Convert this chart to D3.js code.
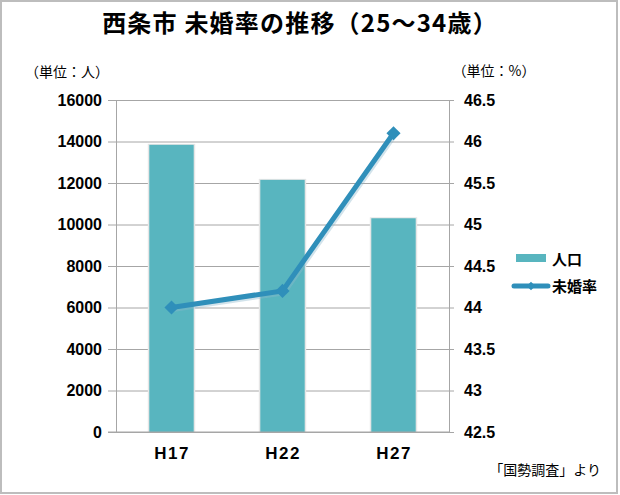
<!DOCTYPE html>
<html><head><meta charset="utf-8">
<script src="https://cdn.jsdelivr.net/npm/d3@7"></script>
<style>body{margin:0;background:#fff}svg{display:block}</style>
</head><body><svg id="c" width="620" height="495"></svg>
<script>
const categories = ["H17", "H22", "H27"];
const population = [13840, 12150, 10300];
const unmarriedRate = [44.0, 44.2, 46.1];
const leftTicks = [0, 2000, 4000, 6000, 8000, 10000, 12000, 14000, 16000];
const rightTicks = [42.5, 43, 43.5, 44, 44.5, 45, 45.5, 46, 46.5];

const svg = d3.select("#c");
const jp = "'Noto Sans CJK JP', sans-serif";
const num = "'Liberation Sans Narrow', 'Liberation Sans', sans-serif";
const L = 116, R = 449, T = 100, B = 432;

svg.append("rect").attr("x", 1).attr("y", 1).attr("width", 616).attr("height", 492)
  .attr("fill", "#fff").attr("stroke", "#bdbdbd").attr("stroke-width", 2);

const x = d3.scaleBand().domain(categories).range([L, R]).paddingInner(0.6).paddingOuter(0.3);
const xc = d3.scalePoint().domain(categories).range([L, R]).padding(0.5);
const yL = d3.scaleLinear().domain([0, 16000]).range([B, T]);
const yR = d3.scaleLinear().domain([42.5, 46.5]).range([B, T]);

// grid lines
const gl = d3.axisLeft(yL).tickValues(leftTicks).tickSize(-(R - L)).tickFormat("");
svg.append("g").attr("transform", `translate(${L},0)`).call(gl)
  .call(g => { g.select(".domain").remove(); g.selectAll("line").attr("stroke", "#a6a6a6"); });

// bars with shadow
svg.append("g").selectAll("rect").data(categories).join("rect")
  .attr("x", d => x(d) - 1.5).attr("y", (d, i) => yL(population[i]) - 1)
  .attr("width", x.bandwidth() + 3).attr("height", (d, i) => B - yL(population[i]) + 1)
  .attr("fill", "#e6e6e6");
svg.append("g").selectAll("rect").data(categories).join("rect")
  .attr("x", d => x(d)).attr("y", (d, i) => yL(population[i]))
  .attr("width", x.bandwidth()).attr("height", (d, i) => B - yL(population[i]))
  .attr("fill", "#58b5bf");

const styleText = (g, size, weight) => g.selectAll("text").attr("font-family", num)
  .attr("font-weight", weight).attr("font-size", size).attr("fill", "#000");

// left axis
const aL = d3.axisLeft(yL).tickValues(leftTicks).tickSize(8).tickPadding(6).tickSizeOuter(0)
  .tickFormat(d3.format("d"));
svg.append("g").attr("transform", `translate(${L},0)`).call(aL)
  .call(g => {
    g.select(".domain").attr("stroke", "#a6a6a6");
    g.selectAll("line").attr("stroke", "#a6a6a6");
    styleText(g, 16, "bold");
  });

// right axis
const aR = d3.axisRight(yR).tickValues(rightTicks).tickSize(5).tickPadding(10).tickSizeOuter(0)
  .tickFormat(d => String(d));
svg.append("g").attr("transform", `translate(${R},0)`).call(aR)
  .call(g => {
    g.select(".domain").attr("stroke", "#a6a6a6");
    g.selectAll("line").attr("stroke", "#a6a6a6");
    styleText(g, 16, "bold");
  });

// bottom axis
const aB = d3.axisBottom(xc).tickSize(0).tickPadding(15);
svg.append("g").attr("transform", `translate(0,${B})`).call(aB)
  .call(g => {
    g.select(".domain").attr("stroke", "#a6a6a6").attr("d", `M${L - 8},0H${R}`);
    styleText(g, 17, "bold");
    g.selectAll("text").attr("letter-spacing", 1.5);
  });

// line
const lc = "#2f8fba";
const line = d3.line().x((d, i) => xc(categories[i])).y(d => yR(d));
svg.append("path").datum(unmarriedRate).attr("d", line)
  .attr("fill", "none").attr("stroke", "#8fb8cc").attr("stroke-width", 6).attr("opacity", 0.4)
  .attr("transform", "translate(1,1.5)");
svg.append("path").datum(unmarriedRate).attr("d", line)
  .attr("fill", "none").attr("stroke", lc).attr("stroke-width", 5);
const sym = d3.symbol().type(d3.symbolSquare).size(100);
svg.append("g").selectAll("path").data(unmarriedRate).join("path")
  .attr("d", sym)
  .attr("transform", (d, i) => `translate(${xc(categories[i])},${yR(d)}) rotate(45)`)
  .attr("fill", lc);

// title
svg.append("text").attr("x", 300).attr("y", 32).attr("text-anchor", "middle")
  .attr("font-family", jp).attr("font-weight", "bold").attr("font-size", 24)
  .attr("letter-spacing", 1.2)
  .text("西条市 未婚率の推移（25～34歳）");

svg.append("text").attr("x", 67).attr("y", 77).attr("text-anchor", "middle")
  .attr("font-family", jp).attr("font-size", 14).text("（単位：人）");
svg.append("text").attr("x", 494).attr("y", 76).attr("text-anchor", "middle")
  .attr("font-family", jp).attr("font-size", 14).text("（単位：%）");

// legend
const lg = svg.append("g");
lg.append("rect").attr("x", 516).attr("y", 254).attr("width", 30).attr("height", 8).attr("fill", "#58b5bf");
lg.append("text").attr("x", 552).attr("y", 265).attr("font-family", jp).attr("font-weight", "bold").attr("font-size", 15).text("人口");
lg.append("line").attr("x1", 514).attr("x2", 548).attr("y1", 286).attr("y2", 286).attr("stroke", lc).attr("stroke-width", 5).attr("stroke-linecap", "round");
lg.append("path").attr("d", d3.symbol().type(d3.symbolSquare).size(36)).attr("transform", "translate(531,286) rotate(45)").attr("fill", lc);
lg.append("text").attr("x", 552).attr("y", 292).attr("font-family", jp).attr("font-weight", "bold").attr("font-size", 15).text("未婚率");

svg.append("text").attr("x", 601).attr("y", 475).attr("text-anchor", "end")
  .attr("font-family", jp).attr("font-size", 14).text("「国勢調査」より");
</script></body></html>
